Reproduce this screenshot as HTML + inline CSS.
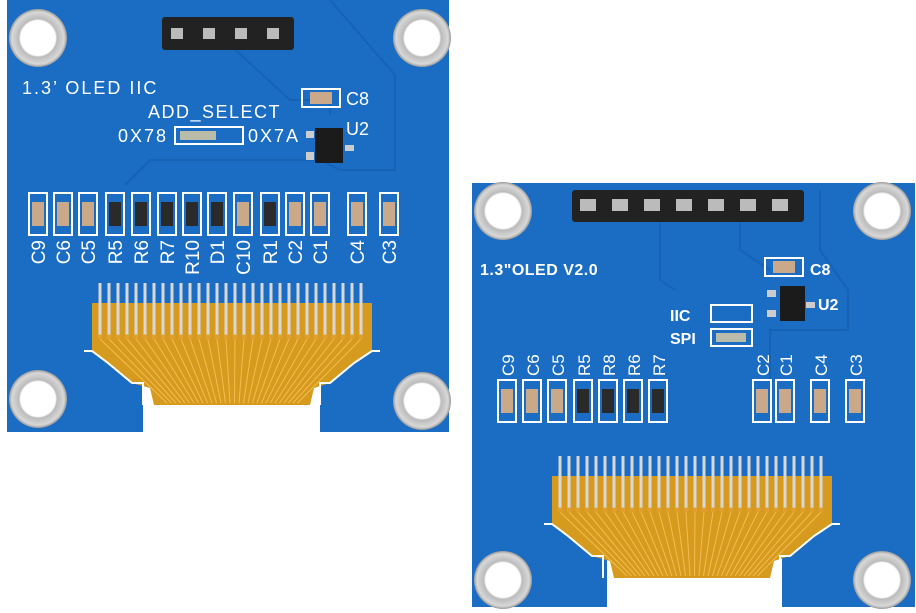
<!DOCTYPE html>
<html><head><meta charset="utf-8"><style>
html,body{margin:0;padding:0;background:#fff;}
svg{display:block;}
text{font-family:"Liberation Sans",sans-serif;fill:#fff;}
</style></head><body>
<svg id="s" width="916" height="613" viewBox="0 0 916 613" xmlns="http://www.w3.org/2000/svg">
<defs>
<radialGradient id="hole"><stop offset="0.6" stop-color="#fff"/><stop offset="0.66" stop-color="#bbb"/><stop offset="0.9" stop-color="#d8d8d8"/><stop offset="1" stop-color="#999"/></radialGradient>
<g id="flex">
<path d="M0,0 L280,0 L280,48 L262,60 L238,80 L222,85 L218,102 L62,102 L58,85 L40,80 L16,60 L0,48 Z" fill="#d69a1e"/>
<path d="M-8,48 L0,48 L16,60 L40,80 L51,80 L51,102 M288,48 L280,48 L262,60 L238,80 L228,80 L228,102" stroke="#fff" stroke-width="2" fill="none"/>
<g id="pins"></g>
</g>
</defs>
<path d="M7,0 H449 V432 H320 V383 H143 V432 H7 Z" fill="#1b6dc4"/>
<path d="M472,183 H915 V607 H782 V558 H607 V607 H472 Z" fill="#1b6dc4"/>
<g fill="none" stroke="#1560b2" stroke-width="2" opacity="0.8">
<path d="M230,45 L290,100 L330,100 L330,115"/><path d="M330,0 L395,75 L395,170 L340,170 L320,160 L150,160 L125,185"/>
<path d="M660,215 L660,280 L675,290"/><path d="M740,215 L740,250 L770,270"/><path d="M820,190 L820,250 L848,290 L848,330 L770,330 L770,380"/>
</g>
<g fill="url(#hole)">
<circle cx="38" cy="38" r="29"/><circle cx="422" cy="38" r="29"/><circle cx="38" cy="399" r="29"/><circle cx="422" cy="401" r="29"/>
<circle cx="503" cy="211" r="29"/><circle cx="882" cy="211" r="29"/><circle cx="503" cy="580" r="29"/><circle cx="882" cy="580" r="29"/>
</g>
<rect x="162" y="17" width="132" height="33" rx="3" fill="#222"/>
<rect x="572" y="190" width="232" height="32" rx="3" fill="#222"/>
<g id="hdr" fill="#bbb"></g>
<use href="#flex" x="92" y="303"/>
<use href="#flex" x="552" y="476"/>
<g id="comps"></g>
<rect x="302" y="89" width="38" height="18" fill="none" stroke="#fff" stroke-width="2"/><rect x="310" y="92" width="22" height="12" fill="#c9a98a"/>
<rect x="315" y="128" width="28" height="35" fill="#1b1b1b"/>
<rect x="306" y="131" width="8" height="7" fill="#ccc"/><rect x="306" y="152" width="8" height="8" fill="#ccc"/><rect x="345" y="145" width="9" height="6" fill="#ccc"/>
<rect x="175" y="127" width="68" height="17" fill="none" stroke="#fff" stroke-width="2"/><rect x="180" y="131" width="36" height="9" fill="#bba"/>
<rect x="765" y="258" width="38" height="18" fill="none" stroke="#fff" stroke-width="2"/><rect x="773" y="261" width="22" height="12" fill="#c9a98a"/>
<rect x="780" y="286" width="25" height="35" fill="#1b1b1b"/>
<rect x="767" y="290" width="9" height="7" fill="#ccc"/><rect x="767" y="310" width="9" height="7" fill="#ccc"/><rect x="806" y="302" width="9" height="6" fill="#ccc"/>
<rect x="711" y="305" width="41" height="17" fill="none" stroke="#fff" stroke-width="2"/><rect x="711" y="329" width="41" height="17" fill="none" stroke="#fff" stroke-width="2"/><rect x="716" y="333" width="30" height="9" fill="#bba"/>
<g font-size="18" letter-spacing="2">
<text x="22" y="94">1.3’ OLED IIC</text>
<text x="148" y="118" letter-spacing="1.5">ADD_SELECT</text>
<text x="118" y="142">0X78</text>
<text x="248" y="142">0X7A</text>
<text x="346" y="105" letter-spacing="0">C8</text>
<text x="346" y="135" letter-spacing="0">U2</text>
<text x="480" y="275" font-size="16" font-weight="bold" letter-spacing="0.5">1.3"OLED V2.0</text>
<text x="810" y="275" font-size="16" font-weight="bold" letter-spacing="0">C8</text>
<text x="818" y="310" font-size="16" font-weight="bold" letter-spacing="0">U2</text>
<text x="670" y="321" font-size="16" font-weight="bold" letter-spacing="0">IIC</text>
<text x="670" y="344" font-size="16" font-weight="bold" letter-spacing="0">SPI</text>
</g>
<g id="lbl"></g>
</svg>
<script>
const NS="http://www.w3.org/2000/svg";
function el(p,t,a,txt){const e=document.createElementNS(NS,t);for(const k in a)e.setAttribute(k,a[k]);if(txt)e.textContent=txt;document.getElementById(p).appendChild(e);}
for(let i=0;i<30;i++){const x=8+i*9;el("pins","line",{x1:x,y1:36,x2:75+i*4.5,y2:100,stroke:"#f3bd50","stroke-width":1});}
for(let i=0;i<30;i++){const x=8+i*9;el("pins","rect",{x:x-1.5,y:-20,width:3,height:52,fill:"#d8d8d8"});el("pins","circle",{cx:x,cy:34,r:2.5,fill:"#e0a030"});}
for(let i=0;i<4;i++)el("hdr","rect",{x:171+i*32,y:28,width:12,height:11});
for(let i=0;i<7;i++)el("hdr","rect",{x:580+i*32,y:199,width:16,height:12});
function comp(cx,y,res,lab,above){el("comps","rect",{x:cx-9,y:y,width:18,height:42,fill:"none",stroke:"#fff","stroke-width":2});
el("comps","rect",{x:cx-6,y:y+9,width:12,height:24,fill:res?"#2a2a2a":"#c9a98a"});
const tx=cx+7,ty=above?y-4:y+47;const t=document.createElementNS(NS,"text");t.setAttribute("transform",`translate(${tx},${ty}) rotate(-90)`);t.setAttribute("text-anchor",above?"start":"end");t.setAttribute("font-size",above?"17":"19");t.textContent=lab;document.getElementById("lbl").appendChild(t);}
const L=[[38,"C9"],[63,"C6"],[88,"C5"],[115,"R5",1],[141,"R6",1],[167,"R7",1],[192,"R10",1],[217,"D1",1],[243,"C10"],[270,"R1",1],[295,"C2"],[320,"C1"],[357,"C4"],[389,"C3"]];
L.forEach(c=>comp(c[0],193,c[2],c[1],false));
const R=[[507,"C9"],[532,"C6"],[557,"C5"],[583,"R5",1],[608,"R8",1],[633,"R6",1],[658,"R7",1],[762,"C2"],[785,"C1"],[820,"C4"],[855,"C3"]];
R.forEach(c=>comp(c[0],380,c[2],c[1],true));
</script>
</body></html>
